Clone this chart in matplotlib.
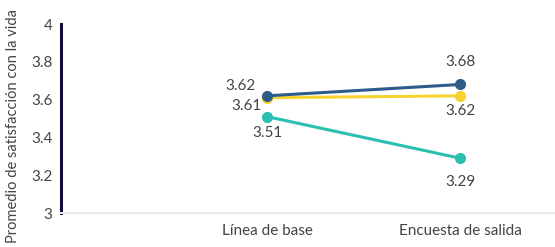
import matplotlib
matplotlib.use("Agg")
import matplotlib.pyplot as plt

categories = ["Línea de base", "Encuesta de salida"]
series_blue = [3.62, 3.68]
series_yellow = [3.61, 3.62]
series_teal = [3.51, 3.29]
yticks = [3, 3.2, 3.4, 3.6, 3.8, 4]
ytick_labels = ["3", "3.2", "3.4", "3.6", "3.8", "4"]

plt.rcParams['font.family'] = ['Lato', 'DejaVu Sans']

fig = plt.figure(figsize=(5.55, 2.47), dpi=100)
ax = fig.add_axes([61/555, 1 - 213/247, (555-61)/555, (213-24)/247])

x = list(range(len(categories)))
colors = {"blue": "#2D5B8A", "yellow": "#F6D32D", "teal": "#2BBFB1"}

ax.plot(x, series_yellow, color=colors["yellow"], lw=2.2, marker="o", ms=7, zorder=3)
ax.plot(x, series_blue, color=colors["blue"], lw=2.2, marker="o", ms=7, zorder=4)
ax.plot(x, series_teal, color=colors["teal"], lw=2.2, marker="o", ms=7, zorder=3)

tc = "#444444"
fs = 11
# value labels
ax.annotate(f"{series_blue[0]:.2f}", (x[0], series_blue[0]), xytext=(-19, 7), textcoords="offset points",
            ha="center", va="center", fontsize=fs, color=tc)
ax.annotate(f"{series_yellow[0]:.2f}", (x[0], series_yellow[0]), xytext=(-15, -6), textcoords="offset points",
            ha="center", va="center", fontsize=fs, color=tc)
ax.annotate(f"{series_teal[0]:.2f}", (x[0], series_teal[0]), xytext=(0, -12), textcoords="offset points",
            ha="center", va="center", fontsize=fs, color=tc)
ax.annotate(f"{series_blue[1]:.2f}", (x[1], series_blue[1]), xytext=(0, 16), textcoords="offset points",
            ha="center", va="center", fontsize=fs, color=tc)
ax.annotate(f"{series_yellow[1]:.2f}", (x[1], series_yellow[1]), xytext=(0, -11), textcoords="offset points",
            ha="center", va="center", fontsize=fs, color=tc)
ax.annotate(f"{series_teal[1]:.2f}", (x[1], series_teal[1]), xytext=(0, -17), textcoords="offset points",
            ha="center", va="center", fontsize=fs, color=tc)

ax.set_ylim(3, 4)
ax.set_xlim((61-267)/193, (555-267)/193)
ax.set_yticks(yticks)
ax.set_yticklabels(ytick_labels)
ax.set_xticks(x)
ax.set_xticklabels(categories)
ax.tick_params(axis="both", length=0, labelsize=fs, colors=tc)
ax.tick_params(axis="y", pad=6)
ax.tick_params(axis="x", pad=8)

for s in ["top", "right"]:
    ax.spines[s].set_visible(False)
ax.spines["left"].set_color("#0E0E3C")
ax.spines["left"].set_linewidth(2.2)
ax.spines["bottom"].set_color("#E6EBEB")
ax.spines["bottom"].set_linewidth(1.5)

ax.set_ylabel("Promedio de satisfacción con la vida", fontsize=10.5, color=tc)
ax.yaxis.set_label_coords(-41/494, 0.46)

fig.savefig("out.png", dpi=100)
